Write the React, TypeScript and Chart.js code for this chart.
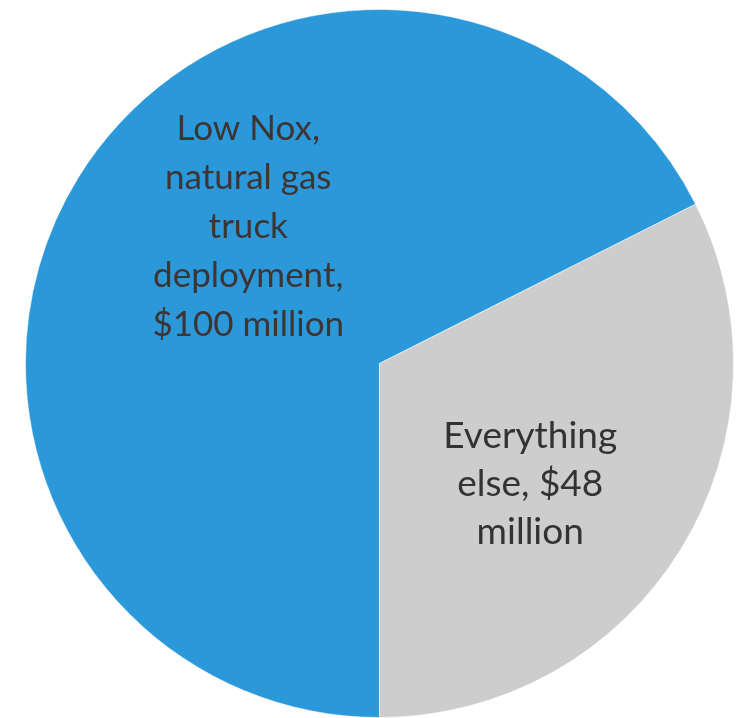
import React, { useEffect, useRef } from "react";
import { Chart, registerables } from "chart.js";

Chart.register(...registerables);

const categories = ["Low Nox, natural gas truck deployment", "Everything else"];
const values = [100, 48]; // $ million
const sliceColors = ["#2b99d9", "#cdcdcd"];
const sliceLabelLines = [
  ["Low Nox,", "natural gas", "truck", "deployment,", "$100 million"],
  ["Everything", "else, $48", "million"],
];

const labelPlugin = {
  id: "sliceLabels",
  afterDatasetsDraw(chart: any, _args: any, opts: any) {
    const meta = chart.getDatasetMeta(0);
    const ctx = chart.ctx;
    ctx.save();
    meta.data.forEach((arc: any, i: number) => {
      const p = arc.getProps(["x", "y", "startAngle", "endAngle", "outerRadius"], true);
      const mid = (p.startAngle + p.endAngle) / 2 + (opts.angleShift[i] * Math.PI) / 180;
      const r = p.outerRadius * opts.radiusFraction[i];
      const cx = p.x + Math.cos(mid) * r;
      const cy = p.y + Math.sin(mid) * r;
      const lines = sliceLabelLines[i];
      const lh = opts.lineHeight[i];
      ctx.font = `${opts.fontSize[i]}px Lato, "Open Sans", sans-serif`;
      ctx.fillStyle = opts.colors[i];
      ctx.textAlign = "center";
      ctx.textBaseline = "middle";
      const top = cy - ((lines.length - 1) * lh) / 2;
      lines.forEach((ln: string, k: number) => {
        ctx.fillText(ln, cx, top + k * lh);
      });
    });
    ctx.restore();
  },
};

export default function App() {
  const ref = useRef<HTMLCanvasElement | null>(null);
  useEffect(() => {
    if (!ref.current) return;
    const chart = new Chart(ref.current, {
      type: "pie",
      data: {
        labels: categories,
        datasets: [
          {
            data: values,
            backgroundColor: sliceColors,
            borderColor: "rgba(255,255,255,0.5)",
            borderWidth: 1,
          },
        ],
      },
      options: {
        responsive: false,
        animation: false,
        devicePixelRatio: 1,
        rotation: 180,
        layout: { padding: { left: 23, right: 3, top: 9, bottom: -4 } },
        plugins: {
          legend: { display: false },
          tooltip: { enabled: false },
          sliceLabels: {
            angleShift: [14.5, 7],
            radiusFraction: [0.535, 0.545],
            fontSize: [35, 37],
            lineHeight: [49, 48],
            colors: ["#3d3434", "#333333"],
          },
        } as any,
      },
      plugins: [labelPlugin],
    });
    return () => chart.destroy();
  }, []);
  return (
    <div style={{ position: "absolute", left: 0, top: 0, width: 739, height: 718, background: "#ffffff" }}>
      <canvas ref={ref} width={739} height={718} style={{ display: "block" }} />
    </div>
  );
}
